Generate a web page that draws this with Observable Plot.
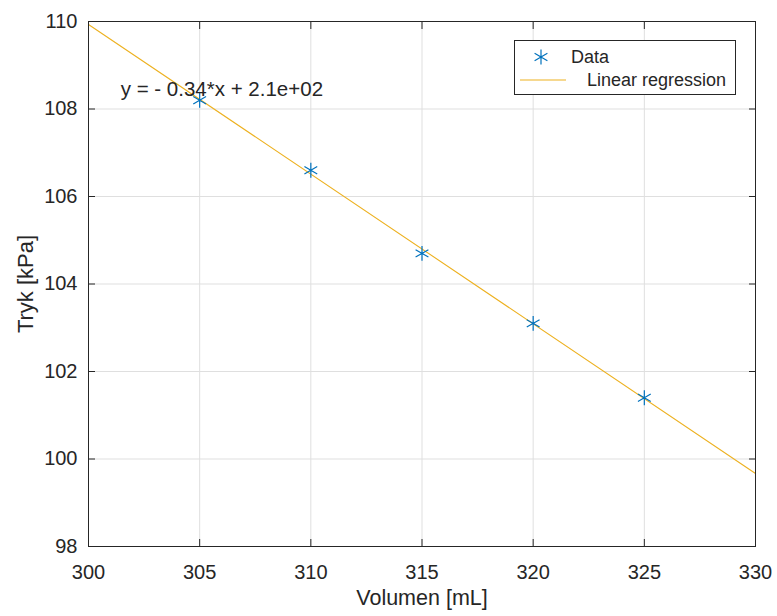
<!DOCTYPE html>
<html><head><meta charset="utf-8">
<script src="https://cdn.jsdelivr.net/npm/d3@7"></script>
<script src="https://cdn.jsdelivr.net/npm/@observablehq/plot@0.6"></script>
<style>body{margin:0;background:#fff;}</style>
</head><body><div id="chart"></div>
<script>
const volume = [305, 310, 315, 320, 325];
const pressure = [108.2, 106.6, 104.7, 103.1, 101.4];
const fitVolume = [300, 330];
const fitPressure = [109.93, 99.67];
const xTicks = [300, 305, 310, 315, 320, 325, 330];
const yTicks = [98, 100, 102, 104, 106, 108, 110];
const equationLabel = ["y = - 0.34*x + 2.1e+02"];
const legendLabels = ["Data", "Linear regression"];
const xLabel = ["Volumen [mL]"];
const yLabel = ["Tryk [kPa]"];

const font = "'Liberation Sans', Arial, Helvetica, sans-serif";
const ink = "#262626";
const dataRows = volume.map((v, i) => ({v, p: pressure[i]}));
const fitRows = fitVolume.map((v, i) => ({v, p: fitPressure[i]}));

const plot = Plot.plot({
  width: 777, height: 616,
  marginLeft: 88, marginRight: 22, marginTop: 21, marginBottom: 70,
  style: {fontFamily: font, fontSize: "20px", color: ink, background: "#fff"},
  x: {domain: [300, 330], ticks: xTicks},
  y: {domain: [98, 110], ticks: yTicks},
  marks: [
    Plot.gridX(xTicks, {stroke: "#dfdfdf", strokeOpacity: 1}),
    Plot.gridY(yTicks, {stroke: "#dfdfdf", strokeOpacity: 1}),
    Plot.line(fitRows, {x: "v", y: "p", stroke: "#EDB120", strokeWidth: 1.1}),
    Plot.dot(dataRows, {x: "v", y: "p", symbol: "asterisk", r: 7, stroke: "#0072BD", strokeWidth: 1.2}),
    Plot.text(equationLabel, {x: 301.45, y: 108.45, text: d => d, textAnchor: "start", fontSize: 20.5, fill: ink}),
    Plot.frame({stroke: ink}),
    Plot.axisX(xTicks, {anchor: "bottom", tickSize: -7, tickPadding: 25, stroke: ink, fill: ink, fontSize: 20, label: null}),
    Plot.axisX(xTicks, {anchor: "top", tickSize: -7, tickFormat: () => "", label: null, stroke: ink}),
    Plot.axisY(yTicks, {anchor: "left", tickSize: -7, tickPadding: 18, stroke: ink, fill: ink, fontSize: 20, label: null}),
    Plot.axisY(yTicks, {anchor: "right", tickSize: -7, tickFormat: () => "", label: null, stroke: ink}),
    Plot.text(xLabel, {frameAnchor: "bottom", text: d => d, textAnchor: "middle", lineAnchor: "bottom", dy: 58, fontSize: 21.5, fill: ink}),
    Plot.text(yLabel, {frameAnchor: "left", text: d => d, textAnchor: "middle", lineAnchor: "bottom", rotate: -90, dx: -56, fontSize: 22, fill: ink})
  ]
});
document.getElementById("chart").appendChild(plot);

// Legend
const svg = d3.select(plot);
const g = svg.append("g").attr("font-family", font).attr("font-size", 18).attr("fill", ink).attr("text-anchor", "start");
g.append("rect").attr("x", 514.5).attr("y", 40.5).attr("width", 221).attr("height", 54)
  .attr("fill", "#fff").attr("stroke", ink).attr("stroke-width", 1);
g.append("path").attr("transform", "translate(541,57)")
  .attr("d", d3.symbol(d3.symbolAsterisk, Math.PI * 49)())
  .attr("fill", "none").attr("stroke", "#0072BD").attr("stroke-width", 1.2);
g.append("text").attr("x", 571).attr("y", 57).attr("dy", "0.35em").text(legendLabels[0]);
g.append("line").attr("x1", 520).attr("x2", 566).attr("y1", 80).attr("y2", 80)
  .attr("stroke", "#EDB120").attr("stroke-width", 1.1);
g.append("text").attr("x", 587).attr("y", 80).attr("dy", "0.35em").text(legendLabels[1]);
</script>
</body></html>
